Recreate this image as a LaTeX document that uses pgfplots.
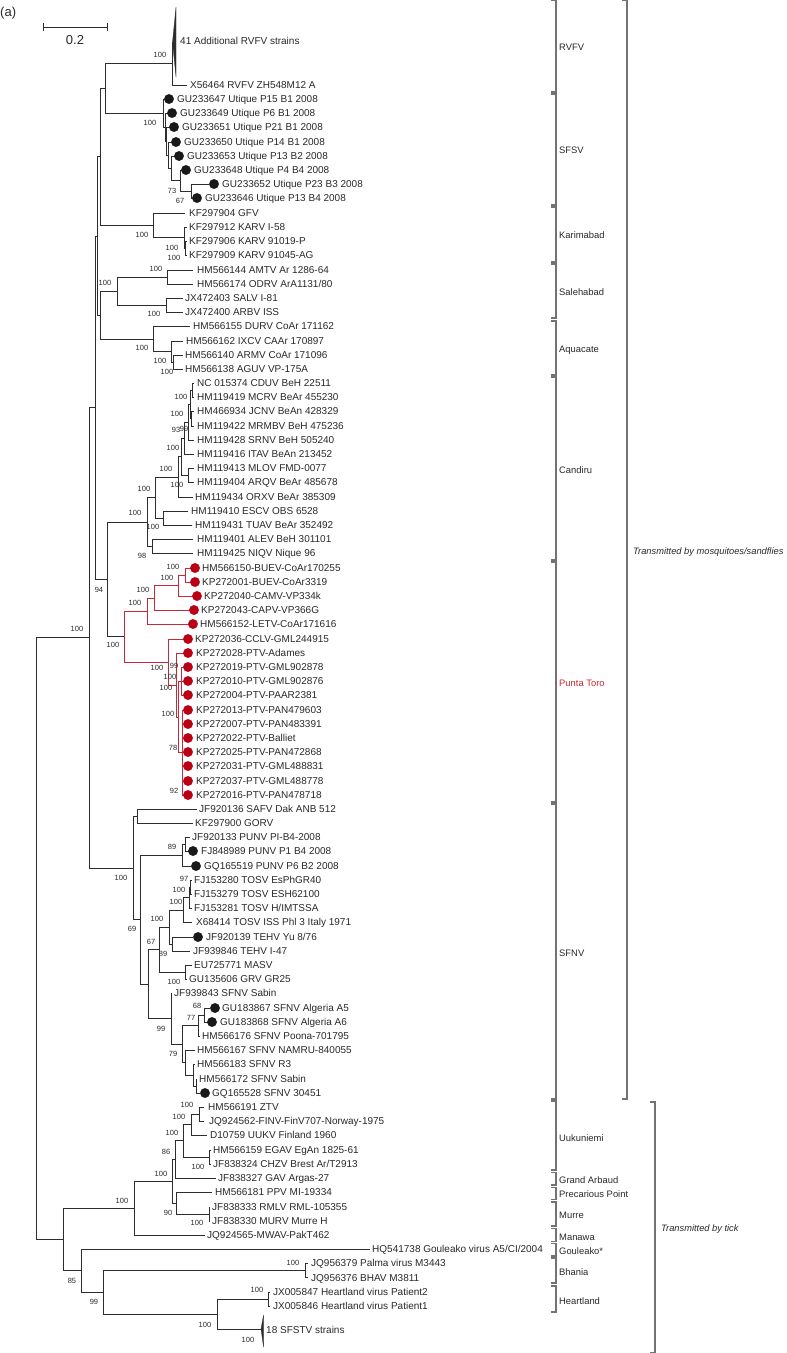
\documentclass[border=0pt]{standalone}
\usepackage{fontspec}
\setmainfont{Liberation Sans}
\usepackage{pgfplots}
\pgfplotsset{compat=1.18}
\definecolor{tr}{RGB}{45,45,45}
\definecolor{ptred}{RGB}{200,40,55}
\definecolor{dotred}{RGB}{185,0,20}
\definecolor{brkcol}{RGB}{115,115,115}
\definecolor{txt}{RGB}{40,40,40}
\pgfplotsset{
  tree/.style={color=tr,line width=0.9pt},
  ptree/.style={color=ptred,line width=0.9pt},
  brkline/.style={color=brkcol,line width=1.15pt},
}
\tikzset{
  tl/.style={anchor=west,inner sep=0pt,text height=7.2pt,text depth=0pt,text=txt,font=\fontsize{10}{12}\selectfont},
  bs/.style={inner sep=0pt,text height=5.4pt,text depth=0pt,text=txt,font=\fontsize{7.5}{8}\selectfont},
  cl/.style={anchor=west,inner sep=0pt,text height=6.8pt,text depth=0pt,text=txt,font=\fontsize{9.4}{11}\selectfont},
}
\begin{document}
\begin{tikzpicture}
\begin{axis}[width=787pt,height=1353pt,scale only axis,
  xmin=0,xmax=787,ymin=0,ymax=1353,y dir=reverse,hide axis,clip=false]

% ---- scale bar
\addplot[tree] coordinates {(43,27) (107,27)};
\addplot[tree] coordinates {(43,23) (43,31)};
\addplot[tree] coordinates {(107,23) (107,31)};
\node[anchor=center,inner sep=0pt,text=txt,font=\fontsize{13}{14}\selectfont] at (axis cs:75,40) {0.2};
\node[anchor=west,inner sep=0pt,text=txt,font=\fontsize{13}{14}\selectfont] at (axis cs:0,13) {(a)};

% ---- RVFV
\addplot[fill=tr,draw=tr,line width=0.3pt] coordinates {(172.5,42) (176,7) (176,77) (172.5,42)};
\addplot[tree] coordinates {(172.5,42) (172.5,85) (187,85)};
\addplot[tree] coordinates {(172.5,63.5) (105,63.5) (105,113) (163,113)};
% ---- SFSV
\addplot[tree] coordinates {(209,184) (191,184) (191,198) (193,198)};
\addplot[tree] coordinates {(182,170) (180,170) (180,191) (191,191)};
\addplot[tree] coordinates {(175,156) (171,156) (171,180.5) (180,180.5)};
\addplot[tree] coordinates {(172,142) (168,142) (168,168) (171,168)};
\addplot[tree] coordinates {(170,127) (166,127) (166,155) (168,155)};
\addplot[tree] coordinates {(168,113) (165,113) (165,141) (166,141)};
\addplot[tree] coordinates {(165,99) (163,99) (163,127) (165,127)};
% ---- Karimabad
\addplot[tree] coordinates {(187,241) (185,241) (185,255) (187,255)};
\addplot[tree] coordinates {(187,227) (184,227) (184,248) (185,248)};
\addplot[tree] coordinates {(185,213) (153,213) (153,237.5) (184,237.5)};
\addplot[tree] coordinates {(105,88) (100,88) (100,225) (153,225)};
% ---- Salehabad
\addplot[tree] coordinates {(193,270) (167,270) (167,284) (193,284)};
\addplot[tree] coordinates {(183,298) (166,298) (166,312) (183,312)};
\addplot[tree] coordinates {(167,277) (117,277) (117,305) (166,305)};
% ---- Aquacate
\addplot[tree] coordinates {(183,355) (173,355) (173,369) (183,369)};
\addplot[tree] coordinates {(183,341) (171,341) (171,362) (173,362)};
\addplot[tree] coordinates {(190,326) (153,326) (153,351.5) (171,351.5)};
\addplot[tree] coordinates {(117,291) (100,291) (100,339) (153,339)};
\addplot[tree] coordinates {(100,156.5) (97,156.5) (97,315) (100,315)};
% ---- Candiru
\addplot[tree] coordinates {(194,383) (192,383) (192,397) (194,397)};
\addplot[tree] coordinates {(194,411) (191,411) (191,426) (194,426)};
\addplot[tree] coordinates {(192,390) (190,390) (190,418.5) (191,418.5)};
\addplot[tree] coordinates {(190,404) (188,404) (188,440) (194,440)};
\addplot[tree] coordinates {(188,422) (184,422) (184,454) (194,454)};
\addplot[tree] coordinates {(194,468) (188,468) (188,482) (194,482)};
\addplot[tree] coordinates {(184,438) (181,438) (181,475) (188,475)};
\addplot[tree] coordinates {(181,456.5) (178,456.5) (178,497) (193,497)};
\addplot[tree] coordinates {(188,511) (163,511) (163,525) (192,525)};
\addplot[tree] coordinates {(178,477) (155,477) (155,518) (163,518)};
\addplot[tree] coordinates {(193,539) (152,539) (152,553) (193,553)};
\addplot[tree] coordinates {(155,497.5) (147,497.5) (147,546) (152,546)};
\addplot[tree] coordinates {(147,522) (107,522) (107,636.5) (124,636.5)};
% ---- Punta Toro (red)
\addplot[ptree] coordinates {(191,568) (185,568) (185,582) (191,582)};
\addplot[ptree] coordinates {(185,575) (178,575) (178,596) (193,596)};
\addplot[ptree] coordinates {(178,585.5) (154,585.5) (154,610) (190,610)};
\addplot[ptree] coordinates {(154,598) (147,598) (147,624) (189,624)};
\addplot[ptree] coordinates {(184,667) (181,667) (181,695) (184,695)};
\addplot[ptree] coordinates {(181,681) (184,681)};
\addplot[ptree] coordinates {(184,710) (182,710) (182,795) (184,795)};
\addplot[ptree] coordinates {(182,724) (184,724)};
\addplot[ptree] coordinates {(182,738) (184,738)};
\addplot[ptree] coordinates {(182,752) (184,752)};
\addplot[ptree] coordinates {(182,766) (184,766)};
\addplot[ptree] coordinates {(182,781) (184,781)};
\addplot[ptree] coordinates {(181,681) (178,681) (178,752.5) (182,752.5)};
\addplot[ptree] coordinates {(184,653) (176,653) (176,717) (178,717)};
\addplot[ptree] coordinates {(184,639) (168,639) (168,685) (176,685)};
\addplot[ptree] coordinates {(147,611) (124,611) (124,662) (168,662)};
\addplot[tree] coordinates {(124,636.5) (107,636.5)};
\addplot[tree] coordinates {(97,236) (95,236) (95,579) (107,579)};
% ---- SFNV
\addplot[tree] coordinates {(197,809) (137,809) (137,823) (193,823)};
\addplot[tree] coordinates {(190,837) (185,837) (185,851) (189,851)};
\addplot[tree] coordinates {(185,844) (182,844) (182,866) (192,866)};
\addplot[tree] coordinates {(192,880) (190,880) (190,894) (192,894)};
\addplot[tree] coordinates {(190,887) (189,887) (189,908) (192,908)};
\addplot[tree] coordinates {(189,897.5) (183,897.5) (183,922) (192,922)};
\addplot[tree] coordinates {(193,937) (172,937) (172,951) (190,951)};
\addplot[tree] coordinates {(183,910) (169,910) (169,944) (172,944)};
\addplot[tree] coordinates {(192,965) (185,965) (185,979) (187,979)};
\addplot[tree] coordinates {(169,927) (159,927) (159,972) (185,972)};
\addplot[tree] coordinates {(210,1008) (204,1008) (204,1022) (208,1022)};
\addplot[tree] coordinates {(204,1015) (198,1015) (198,1036) (200,1036)};
\addplot[tree] coordinates {(197,1079) (196,1079) (196,1093) (200,1093)};
\addplot[tree] coordinates {(195,1064) (193,1064) (193,1086) (196,1086)};
\addplot[tree] coordinates {(195,1050) (185,1050) (185,1075) (193,1075)};
\addplot[tree] coordinates {(198,1025.5) (182,1025.5) (182,1062.5) (185,1062.5)};
\addplot[tree] coordinates {(172,993) (171,993) (171,1044) (182,1044)};
\addplot[tree] coordinates {(159,949.5) (148,949.5) (148,1018.5) (171,1018.5)};
\addplot[tree] coordinates {(182,855) (140,855) (140,984) (148,984)};
\addplot[tree] coordinates {(137,816) (133,816) (133,919.5) (140,919.5)};
\addplot[tree] coordinates {(95,407.5) (89,407.5) (89,868) (133,868)};
% ---- tick-borne
\addplot[tree] coordinates {(204,1107) (199,1107) (199,1121) (204,1121)};
\addplot[tree] coordinates {(199,1114) (191,1114) (191,1135) (207,1135)};
\addplot[tree] coordinates {(211,1150) (209,1150) (209,1164) (211,1164)};
\addplot[tree] coordinates {(191,1124.5) (183,1124.5) (183,1157) (209,1157)};
\addplot[tree] coordinates {(183,1140.8) (175,1140.8) (175,1178) (216,1178)};
\addplot[tree] coordinates {(210,1207) (209,1207) (209,1221) (210,1221)};
\addplot[tree] coordinates {(212,1192) (176,1192) (176,1214) (209,1214)};
\addplot[tree] coordinates {(175,1159.4) (172,1159.4) (172,1203) (176,1203)};
\addplot[tree] coordinates {(172,1181.2) (134,1181.2) (134,1235) (205,1235)};
\addplot[tree] coordinates {(308,1263) (305,1263) (305,1277) (308,1277)};
\addplot[tree] coordinates {(270,1292) (268,1292) (268,1306) (270,1306)};
\addplot[fill=tr,draw=tr,line width=0.3pt] coordinates {(261,1329) (263.5,1315) (263.5,1347) (261,1329)};
\addplot[tree] coordinates {(268,1299) (217,1299) (217,1329) (261,1329)};
\addplot[tree] coordinates {(305,1270) (103,1270) (103,1314) (217,1314)};
\addplot[tree] coordinates {(370,1249) (81,1249) (81,1292) (103,1292)};
\addplot[tree] coordinates {(134,1208) (63,1208) (63,1270.5) (81,1270.5)};
\addplot[tree] coordinates {(89,637.8) (36,637.8) (36,1239) (63,1239)};

% ---- dots
\addplot[only marks,mark=*,mark size=4.7pt,color=black!90] coordinates {
(169,99) (172,113) (174,127) (176,142) (179,156) (186,170) (214,184) (197,198)
(193,851) (196,866) (198,937) (215,1008) (212,1022) (205,1093)};
\addplot[only marks,mark=*,mark size=4.7pt,color=dotred] coordinates {
(195,568) (195,582) (197,596) (194,610) (193,624) (188,639) (188,653) (188,667)
(188,681) (188,695) (188,710) (188,724) (188,738) (188,752) (188,766) (188,781) (188,795)};

% ---- brackets
\addplot[brkline] coordinates {(551,0.7) (556,0.7) (556,92) (551,92)};
\addplot[brkline] coordinates {(551,94) (556,94) (556,205) (551,205)};
\addplot[brkline] coordinates {(551,207) (556,207) (556,262) (551,262)};
\addplot[brkline] coordinates {(551,264) (556,264) (556,318) (551,318)};
\addplot[brkline] coordinates {(551,321) (556,321) (556,375) (551,375)};
\addplot[brkline] coordinates {(551,377) (556,377) (556,560) (551,560)};
\addplot[brkline] coordinates {(551,562) (556,562) (556,802) (551,802)};
\addplot[brkline] coordinates {(551,804) (556,804) (556,1099) (551,1099)};
\addplot[brkline] coordinates {(551,1101) (556,1101) (556,1170) (551,1170)};
\addplot[brkline] coordinates {(551,1172.5) (556,1172.5) (556,1185) (551,1185)};
\addplot[brkline] coordinates {(551,1187.5) (556,1187.5) (556,1199.5) (551,1199.5)};
\addplot[brkline] coordinates {(551,1202) (556,1202) (556,1226) (551,1226)};
\addplot[brkline] coordinates {(551,1228.5) (556,1228.5) (556,1241.5) (551,1241.5)};
\addplot[brkline] coordinates {(551,1243.5) (556,1243.5) (556,1256) (551,1256)};
\addplot[brkline] coordinates {(551,1258) (556,1258) (556,1283) (551,1283)};
\addplot[brkline] coordinates {(551,1286) (556,1286) (556,1312) (551,1312)};
\addplot[brkline] coordinates {(622,0.7) (627,0.7) (627,1099) (622,1099)};
\addplot[brkline] coordinates {(650,1102) (655,1102) (655,1352.3) (650,1352.3)};

% ---- clade labels
\node[cl] at (axis cs:559,47) {RVFV};
\node[cl] at (axis cs:559,150) {SFSV};
\node[cl] at (axis cs:559,235) {Karimabad};
\node[cl] at (axis cs:559,292) {Salehabad};
\node[cl] at (axis cs:559,349) {Aquacate};
\node[cl] at (axis cs:559,470) {Candiru};
\node[cl,text=ptred] at (axis cs:559,683) {Punta Toro};
\node[cl] at (axis cs:559,953) {SFNV};
\node[cl] at (axis cs:559,1138) {Uukuniemi};
\node[cl] at (axis cs:559,1180) {Grand Arbaud};
\node[cl] at (axis cs:559,1194) {Precarious Point};
\node[cl] at (axis cs:559,1215) {Murre};
\node[cl] at (axis cs:559,1237) {Manawa};
\node[cl] at (axis cs:559,1251) {Gouleako*};
\node[cl] at (axis cs:559,1272) {Bhania};
\node[cl] at (axis cs:559,1301) {Heartland};
\node[cl,font=\fontsize{9.3}{11}\selectfont\itshape] at (axis cs:633,551) {Transmitted by mosquitoes/sandflies};
\node[cl,font=\fontsize{9.3}{11}\selectfont\itshape] at (axis cs:661,1228) {Transmitted by tick};

% ---- taxon labels
\node[tl] at (axis cs:180,41) {41 Additional RVFV strains};
\node[tl] at (axis cs:190,85) {X56464 RVFV ZH548M12 A};
\node[tl] at (axis cs:177,99) {GU233647 Utique P15 B1 2008};
\node[tl] at (axis cs:180,113) {GU233649 Utique P6 B1 2008};
\node[tl] at (axis cs:182,127) {GU233651 Utique P21 B1 2008};
\node[tl] at (axis cs:184,142) {GU233650 Utique P14 B1 2008};
\node[tl] at (axis cs:187,156) {GU233653 Utique P13 B2 2008};
\node[tl] at (axis cs:194,170) {GU233648 Utique P4 B4 2008};
\node[tl] at (axis cs:222,184) {GU233652 Utique P23 B3 2008};
\node[tl] at (axis cs:205,198) {GU233646 Utique P13 B4 2008};
\node[tl] at (axis cs:189,213) {KF297904 GFV};
\node[tl] at (axis cs:189,227) {KF297912 KARV I-58};
\node[tl] at (axis cs:189,241) {KF297906 KARV 91019-P};
\node[tl] at (axis cs:189,255) {KF297909 KARV 91045-AG};
\node[tl] at (axis cs:197,270) {HM566144 AMTV Ar 1286-64};
\node[tl] at (axis cs:197,284) {HM566174 ODRV ArA1131/80};
\node[tl] at (axis cs:185,298) {JX472403 SALV I-81};
\node[tl] at (axis cs:185,312) {JX472400 ARBV ISS};
\node[tl] at (axis cs:193,326) {HM566155 DURV CoAr 171162};
\node[tl] at (axis cs:186,341) {HM566162 IXCV CAAr 170897};
\node[tl] at (axis cs:185,355) {HM566140 ARMV CoAr 171096};
\node[tl] at (axis cs:185,369) {HM566138 AGUV VP-175A};
\node[tl] at (axis cs:197,383) {NC 015374 CDUV BeH 22511};
\node[tl] at (axis cs:197,397) {HM119419 MCRV BeAr 455230};
\node[tl] at (axis cs:197,411) {HM466934 JCNV BeAn 428329};
\node[tl] at (axis cs:197,426) {HM119422 MRMBV BeH 475236};
\node[tl] at (axis cs:197,440) {HM119428 SRNV BeH 505240};
\node[tl] at (axis cs:197,454) {HM119416 ITAV BeAn 213452};
\node[tl] at (axis cs:197,468) {HM119413 MLOV FMD-0077};
\node[tl] at (axis cs:197,482) {HM119404 ARQV BeAr 485678};
\node[tl] at (axis cs:195,497) {HM119434 ORXV BeAr 385309};
\node[tl] at (axis cs:191,511) {HM119410 ESCV OBS 6528};
\node[tl] at (axis cs:195,525) {HM119431 TUAV BeAr 352492};
\node[tl] at (axis cs:197,539) {HM119401 ALEV BeH 301101};
\node[tl] at (axis cs:197,553) {HM119425 NIQV Nique 96};
\node[tl] at (axis cs:202,568) {HM566150-BUEV-CoAr170255};
\node[tl] at (axis cs:202,582) {KP272001-BUEV-CoAr3319};
\node[tl] at (axis cs:204,596) {KP272040-CAMV-VP334k};
\node[tl] at (axis cs:201,610) {KP272043-CAPV-VP366G};
\node[tl] at (axis cs:200,624) {HM566152-LETV-CoAr171616};
\node[tl] at (axis cs:195,639) {KP272036-CCLV-GML244915};
\node[tl] at (axis cs:196,653) {KP272028-PTV-Adames};
\node[tl] at (axis cs:196,667) {KP272019-PTV-GML902878};
\node[tl] at (axis cs:196,681) {KP272010-PTV-GML902876};
\node[tl] at (axis cs:196,695) {KP272004-PTV-PAAR2381};
\node[tl] at (axis cs:196,710) {KP272013-PTV-PAN479603};
\node[tl] at (axis cs:196,724) {KP272007-PTV-PAN483391};
\node[tl] at (axis cs:196,738) {KP272022-PTV-Balliet};
\node[tl] at (axis cs:196,752) {KP272025-PTV-PAN472868};
\node[tl] at (axis cs:196,766) {KP272031-PTV-GML488831};
\node[tl] at (axis cs:196,781) {KP272037-PTV-GML488778};
\node[tl] at (axis cs:196,795) {KP272016-PTV-PAN478718};
\node[tl] at (axis cs:199,809) {JF920136 SAFV Dak ANB 512};
\node[tl] at (axis cs:195,823) {KF297900 GORV};
\node[tl] at (axis cs:192,837) {JF920133 PUNV PI-B4-2008};
\node[tl] at (axis cs:201,851) {FJ848989 PUNV P1 B4 2008};
\node[tl] at (axis cs:204,866) {GQ165519 PUNV P6 B2 2008};
\node[tl] at (axis cs:194,880) {FJ153280 TOSV EsPhGR40};
\node[tl] at (axis cs:194,894) {FJ153279 TOSV ESH62100};
\node[tl] at (axis cs:194,908) {FJ153281 TOSV H/IMTSSA};
\node[tl] at (axis cs:196,922) {X68414 TOSV ISS Phl 3 Italy 1971};
\node[tl] at (axis cs:206,937) {JF920139 TEHV Yu 8/76};
\node[tl] at (axis cs:193,951) {JF939846 TEHV I-47};
\node[tl] at (axis cs:194,965) {EU725771 MASV};
\node[tl] at (axis cs:189,979) {GU135606 GRV GR25};
\node[tl] at (axis cs:174,993) {JF939843 SFNV Sabin};
\node[tl] at (axis cs:222,1008) {GU183867 SFNV Algeria A5};
\node[tl] at (axis cs:220,1022) {GU183868 SFNV Algeria A6};
\node[tl] at (axis cs:202,1036) {HM566176 SFNV Poona-701795};
\node[tl] at (axis cs:197,1050) {HM566167 SFNV NAMRU-840055};
\node[tl] at (axis cs:197,1064) {HM566183 SFNV R3};
\node[tl] at (axis cs:199,1079) {HM566172 SFNV Sabin};
\node[tl] at (axis cs:212,1093) {GQ165528 SFNV 30451};
\node[tl] at (axis cs:208,1107) {HM566191 ZTV};
\node[tl] at (axis cs:209,1121) {JQ924562-FINV-FinV707-Norway-1975};
\node[tl] at (axis cs:210,1135) {D10759 UUKV Finland 1960};
\node[tl] at (axis cs:213,1150) {HM566159 EGAV EgAn 1825-61};
\node[tl] at (axis cs:213,1164) {JF838324 CHZV Brest Ar/T2913};
\node[tl] at (axis cs:218,1178) {JF838327 GAV Argas-27};
\node[tl] at (axis cs:215,1192) {HM566181 PPV MI-19334};
\node[tl] at (axis cs:212,1207) {JF838333 RMLV RML-105355};
\node[tl] at (axis cs:212,1221) {JF838330 MURV Murre H};
\node[tl] at (axis cs:207,1235) {JQ924565-MWAV-PakT462};
\node[tl] at (axis cs:372,1249) {HQ541738 Gouleako virus A5/CI/2004};
\node[tl] at (axis cs:311,1263) {JQ956379 Palma virus M3443};
\node[tl] at (axis cs:311,1278) {JQ956376 BHAV M3811};
\node[tl] at (axis cs:273,1292) {JX005847 Heartland virus Patient2};
\node[tl] at (axis cs:273,1306) {JX005846 Heartland virus Patient1};
\node[tl] at (axis cs:266,1330) {18 SFSTV strains};

% ---- bootstrap values
\node[bs] at (axis cs:160,55) {100};
\node[bs] at (axis cs:150,123) {100};
\node[bs] at (axis cs:172,191) {73};
\node[bs] at (axis cs:180,201) {67};
\node[bs] at (axis cs:142,235) {100};
\node[bs] at (axis cs:172,248) {100};
\node[bs] at (axis cs:174,258) {100};
\node[bs] at (axis cs:156,269) {100};
\node[bs] at (axis cs:105,283) {100};
\node[bs] at (axis cs:154,314) {100};
\node[bs] at (axis cs:142,348) {100};
\node[bs] at (axis cs:160,361) {100};
\node[bs] at (axis cs:167,372) {100};
\node[bs] at (axis cs:181,397) {100};
\node[bs] at (axis cs:177,414) {100};
\node[bs] at (axis cs:176,430) {93};
\node[bs] at (axis cs:184,429) {99};
\node[bs] at (axis cs:173,448) {100};
\node[bs] at (axis cs:166,469) {100};
\node[bs] at (axis cs:177,485) {100};
\node[bs] at (axis cs:144,489) {100};
\node[bs] at (axis cs:135,513) {100};
\node[bs] at (axis cs:153,527) {100};
\node[bs] at (axis cs:142,556) {98};
\node[bs] at (axis cs:173,567) {100};
\node[bs] at (axis cs:167,578) {100};
\node[bs] at (axis cs:143,590) {100};
\node[bs] at (axis cs:99,590) {94};
\node[bs] at (axis cs:135,603) {100};
\node[bs] at (axis cs:77,629) {100};
\node[bs] at (axis cs:113,645) {100};
\node[bs] at (axis cs:174,666) {99};
\node[bs] at (axis cs:157,668) {100};
\node[bs] at (axis cs:170,677) {100};
\node[bs] at (axis cs:166,688) {100};
\node[bs] at (axis cs:168,714) {100};
\node[bs] at (axis cs:173,748) {78};
\node[bs] at (axis cs:174,791) {92};
\node[bs] at (axis cs:172,847) {89};
\node[bs] at (axis cs:121,878) {100};
\node[bs] at (axis cs:184,879) {97};
\node[bs] at (axis cs:179,890) {100};
\node[bs] at (axis cs:176,902) {100};
\node[bs] at (axis cs:157,919) {100};
\node[bs] at (axis cs:132,929) {69};
\node[bs] at (axis cs:151,942) {67};
\node[bs] at (axis cs:163,954) {89};
\node[bs] at (axis cs:174,982) {100};
\node[bs] at (axis cs:197,1006) {68};
\node[bs] at (axis cs:191,1018) {77};
\node[bs] at (axis cs:161,1029) {99};
\node[bs] at (axis cs:173,1054) {79};
\node[bs] at (axis cs:187,1105) {100};
\node[bs] at (axis cs:179,1117) {100};
\node[bs] at (axis cs:172,1133) {100};
\node[bs] at (axis cs:166,1152) {86};
\node[bs] at (axis cs:198,1167) {100};
\node[bs] at (axis cs:161,1174) {100};
\node[bs] at (axis cs:122,1201) {100};
\node[bs] at (axis cs:168,1213) {90};
\node[bs] at (axis cs:197,1223) {100};
\node[bs] at (axis cs:293,1263) {100};
\node[bs] at (axis cs:72,1281) {85};
\node[bs] at (axis cs:257,1290) {100};
\node[bs] at (axis cs:94,1302) {99};
\node[bs] at (axis cs:205,1325) {100};
\node[bs] at (axis cs:248,1340) {100};
\end{axis}
\pgfresetboundingbox
\useasboundingbox (current axis.south west) rectangle (current axis.north east);
\end{tikzpicture}
\end{document}
